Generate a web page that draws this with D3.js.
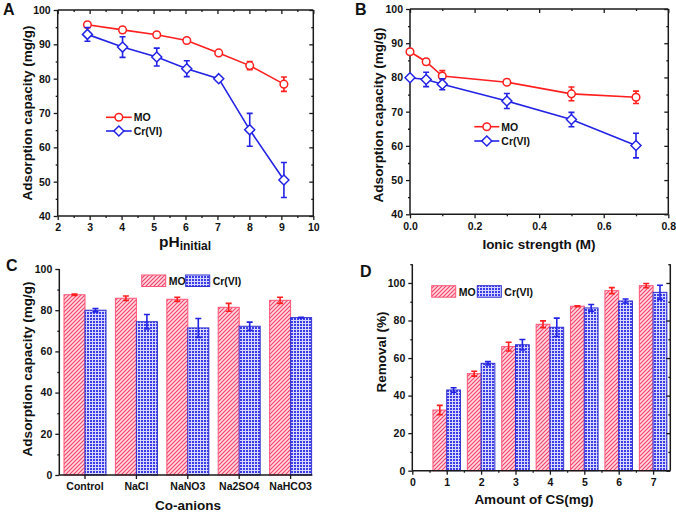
<!DOCTYPE html>
<html><head><meta charset="utf-8">
<script src="https://cdn.jsdelivr.net/npm/d3@7"></script>
<style>
body{margin:0;background:#fff}
svg{display:block}
text{font-family:Arial,"Liberation Sans",sans-serif;font-weight:bold;fill:#111}
</style>
</head><body>
<svg id="c" width="676" height="512"></svg>
<script>
// ---------- DATA ----------
const seriesNames = ["MO", "Cr(VI)"];

// Panel A: effect of initial pH
const phValues = [2.93, 4.03, 5.10, 6.04, 7.04, 8.01, 9.08];
const phMO     = [95.7, 94.2, 92.8, 91.1, 87.5, 83.8, 78.4];
const phMOErr  = [0.5, 0.8, 0.5, 0.6, 0.6, 1.2, 2.1];
const phCr     = [92.9, 89.2, 86.3, 82.9, 80.0, 65.1, 50.5];
const phCrErr  = [2.0, 3.0, 2.6, 2.3, 0.5, 4.8, 5.1];
const phTicks  = [2, 3, 4, 5, 6, 7, 8, 9, 10];
const capTicksA = [40, 50, 60, 70, 80, 90, 100];

// Panel B: effect of ionic strength
const ionicValues = [0, 0.05, 0.1, 0.3, 0.5, 0.7];
const ionicMO     = [87.5, 84.6, 80.4, 78.6, 75.2, 74.2];
const ionicMOErr  = [0.5, 0.8, 1.6, 0.5, 2.0, 1.8];
const ionicCr     = [79.9, 79.4, 78.0, 73.1, 67.7, 60.1];
const ionicCrErr  = [0.4, 2.1, 1.6, 2.2, 2.1, 3.6];
const ionicTicks  = [0, 0.2, 0.4, 0.6, 0.8];
const capTicksB   = [40, 50, 60, 70, 80, 90, 100];

// Panel C: co-anions
const anions     = ["Control", "NaCl", "NaNO3", "Na2SO4", "NaHCO3"];
const anionMO    = [87.5, 85.8, 85.3, 81.4, 84.8];
const anionMOErr = [0.3, 1.1, 1.0, 1.9, 1.5];
const anionCr    = [80.0, 74.4, 71.4, 72.2, 76.4];
const anionCrErr = [0.8, 3.5, 4.6, 2.0, 0.2];
const capTicksC  = [0, 20, 40, 60, 80, 100];

// Panel D: amount of CS
const csAmount = [1, 2, 3, 4, 5, 6, 7];
const csMO     = [32.3, 51.7, 66.1, 78.0, 87.6, 95.9, 98.6];
const csMOErr  = [2.5, 1.3, 2.3, 1.8, 0.3, 1.6, 1.1];
const csCr     = [43.0, 57.2, 67.1, 76.4, 86.7, 90.4, 95.0];
const csCrErr  = [1.2, 0.9, 2.8, 4.9, 1.8, 1.1, 3.8];
const csTicks  = [0, 1, 2, 3, 4, 5, 6, 7];
const removalTicks = [0, 20, 40, 60, 80, 100];

// ---------- STYLE ----------
const RED = "#ff1f1f", BLUE = "#2323e6", AX = "#1a1a1a";
const svg = d3.select("#c");
const defs = svg.append("defs");
const pMO = defs.append("pattern").attr("id","hMO").attr("patternUnits","userSpaceOnUse").attr("width",4).attr("height",4);
pMO.append("rect").attr("width",4).attr("height",4).attr("fill","#ffd8e0");
pMO.append("path").attr("d","M-1,1 L1,-1 M0,4 L4,0 M3,5 L5,3").attr("stroke","#f2406a").attr("stroke-width",1.1);
const pCr = defs.append("pattern").attr("id","hCr").attr("patternUnits","userSpaceOnUse").attr("width",3).attr("height",3);
pCr.append("rect").attr("width",3).attr("height",3).attr("fill","#3b3be8");
pCr.append("path").attr("d","M0,2.5 H3 M2.5,0 V3").attr("stroke","#d8d8ff").attr("stroke-width",1);

function styleAxis(g){
  g.selectAll("path.domain").remove();
  g.selectAll("line").attr("stroke",AX).attr("stroke-width",1.3);
  g.selectAll("text").attr("font-size",10.5).attr("fill","#111").style("font-weight","bold");
}
function axes(g, x, y, o){
  const [x0,x1] = o.xr || x.range(), [y0,y1] = y.range();
  const la = g.append("g").attr("transform",`translate(${x0},0)`)
    .call(d3.axisLeft(y).tickValues(o.yMaj).tickSize(4).tickPadding(3).tickSizeOuter(0).tickFormat(o.yFmt||d3.format("d")));
  styleAxis(la);
  if (o.yMin) styleAxis(g.append("g").attr("transform",`translate(${x0},0)`)
    .call(d3.axisLeft(y).tickValues(o.yMin).tickSize(2).tickFormat("")));
  if (o.xMaj){
    const ba = g.append("g").attr("transform",`translate(0,${y0})`)
      .call(d3.axisBottom(x).tickValues(o.xMaj).tickSize(4).tickPadding(4).tickFormat(o.xFmt||d3.format("d")));
    styleAxis(ba);
    if (o.xMin) styleAxis(g.append("g").attr("transform",`translate(0,${y0})`)
      .call(d3.axisBottom(x).tickValues(o.xMin).tickSize(2).tickFormat("")));
  }
  if (o.top){
    styleAxis(g.append("g").attr("transform",`translate(0,${y1})`).call(d3.axisTop(x).tickValues(o.xMaj).tickSize(-4).tickFormat("")));
    if (o.xMin) styleAxis(g.append("g").attr("transform",`translate(0,${y1})`).call(d3.axisTop(x).tickValues(o.xMin).tickSize(-2).tickFormat("")));
    g.append("line").attr("x1",x0).attr("x2",x1).attr("y1",y1).attr("y2",y1).attr("stroke",AX).attr("stroke-width",1.5);
  }
  if (o.right){
    styleAxis(g.append("g").attr("transform",`translate(${x1},0)`).call(d3.axisRight(y).tickValues(o.yMaj).tickSize(-4).tickFormat("")));
    if (o.yMin) styleAxis(g.append("g").attr("transform",`translate(${x1},0)`).call(d3.axisRight(y).tickValues(o.yMin).tickSize(-2).tickFormat("")));
    g.append("line").attr("x1",x1).attr("x2",x1).attr("y1",y0).attr("y2",y1).attr("stroke",AX).attr("stroke-width",1.5);
  }
  g.append("line").attr("x1",x0).attr("x2",x0).attr("y1",y0).attr("y2",y1).attr("stroke",AX).attr("stroke-width",1.5);
  g.append("line").attr("x1",x0).attr("x2",x1).attr("y1",y0).attr("y2",y0).attr("stroke",AX).attr("stroke-width",1.5);
}
function ylabel(t, cx, cy){
  svg.append("text").attr("transform",`translate(${cx},${cy}) rotate(-90)`).attr("text-anchor","middle")
    .attr("dominant-baseline","central").attr("font-size",13.5).text(t);
}
function panelLetter(t,x,y){ svg.append("text").attr("x",x).attr("y",y).attr("font-size",16).text(t); }

function circle(g,cx,cy,col){ g.append("circle").attr("cx",cx).attr("cy",cy).attr("r",3.8).attr("fill","#fff").attr("stroke",col).attr("stroke-width",1.5); }
function diamond(g,cx,cy,col){ g.append("path").attr("d",`M${cx},${cy-5}L${cx+5},${cy}L${cx},${cy+5}L${cx-5},${cy}Z`).attr("fill","#fff").attr("stroke",col).attr("stroke-width",1.5); }
function errBar(g,cx,yv,e,y,col,w){
  const a=y(yv+e), b=y(yv-e);
  g.append("path").attr("d",`M${cx},${a}V${b}M${cx-w},${a}H${cx+w}M${cx-w},${b}H${cx+w}`).attr("stroke",col).attr("stroke-width",1.6).attr("fill","none");
}
function lineSeries(g,xs,ys,es,x,y,col,marker){
  g.append("path").datum(xs.map((v,i)=>[v,ys[i]])).attr("d",d3.line().x(d=>x(d[0])).y(d=>y(d[1])))
    .attr("fill","none").attr("stroke",col).attr("stroke-width",1.6);
  xs.forEach((v,i)=>errBar(g,x(v),ys[i],es[i],y,col,3));
  xs.forEach((v,i)=>marker(g,x(v),y(ys[i]),col));
}
function lineLegend(g,x0,x1,yy,col,marker,label){
  g.append("line").attr("x1",x0).attr("x2",x1).attr("y1",yy).attr("y2",yy).attr("stroke",col).attr("stroke-width",1.6);
  marker(g,(x0+x1)/2,yy,col);
  g.append("text").attr("x",x1+2).attr("y",yy+4).attr("font-size",10.5).text(label);
}
function barLegend(g,x,yy,fill,stroke,label){
  g.append("rect").attr("x",x).attr("y",yy).attr("width",24).attr("height",11.5).attr("fill",fill).attr("stroke",stroke).attr("stroke-width",1);
  g.append("text").attr("x",x+27).attr("y",yy+10).attr("font-size",10.5).text(label);
}

// ---------- PANEL A ----------
{
  const g = svg.append("g");
  const x = d3.scaleLinear().domain([2,10]).range([57.7,313.3]);
  const y = d3.scaleLinear().domain([40,100]).range([216,10]);
  axes(g,x,y,{yMaj:capTicksA, yMin:d3.range(45,100,10), xMaj:phTicks, xMin:d3.range(2.5,10,1), top:true, right:true});
  lineSeries(g,phValues,phMO,phMOErr,x,y,RED,circle);
  lineSeries(g,phValues,phCr,phCrErr,x,y,BLUE,diamond);
  lineLegend(g,106,131.7,117.3,RED,circle,seriesNames[0]);
  lineLegend(g,106,131.7,131,BLUE,diamond,seriesNames[1]);
  ylabel("Adsorption capacity (mg/g)",27,113);
  const t = svg.append("text").attr("x",159).attr("y",247).attr("text-anchor","start");
  t.append("tspan").attr("font-size",15.5).text("pH");
  t.append("tspan").attr("font-size",12).attr("dy",3).text("initial");
  panelLetter("A",3,15);
}
// ---------- PANEL B ----------
{
  const g = svg.append("g");
  const x = d3.scaleLinear().domain([0,0.8]).range([410,668.3]);
  const y = d3.scaleLinear().domain([40,100]).range([214.3,9]);
  axes(g,x,y,{yMaj:capTicksB, yMin:d3.range(45,100,10), xMaj:ionicTicks, xMin:[0.1,0.3,0.5,0.7], xFmt:d3.format(".1f"), top:true, right:true});
  lineSeries(g,ionicValues,ionicMO,ionicMOErr,x,y,RED,circle);
  lineSeries(g,ionicValues,ionicCr,ionicCrErr,x,y,BLUE,diamond);
  lineLegend(g,474.3,499.3,126.7,RED,circle,seriesNames[0]);
  lineLegend(g,474.3,499.3,141,BLUE,diamond,seriesNames[1]);
  ylabel("Adsorption capacity (mg/g)",378,115);
  svg.append("text").attr("x",539).attr("y",249).attr("text-anchor","middle").attr("font-size",13.5).text("Ionic strength (M)");
  panelLetter("B",355,15);
}
// ---------- PANEL C ----------
{
  const g = svg.append("g");
  const x = d3.scaleBand().domain(anions).range([59.3,316.3]);
  const y = d3.scaleLinear().domain([0,100]).range([475,269]);
  const bw = 21;
  anions.forEach((a,i)=>{
    const cx = x(a)+x.bandwidth()/2;
    g.append("rect").attr("x",cx-bw).attr("y",y(anionMO[i])).attr("width",bw).attr("height",y(0)-y(anionMO[i]))
      .attr("fill","url(#hMO)").attr("stroke","#ff5577").attr("stroke-width",1);
    g.append("rect").attr("x",cx).attr("y",y(anionCr[i])).attr("width",bw).attr("height",y(0)-y(anionCr[i]))
      .attr("fill","url(#hCr)").attr("stroke","#3030d0").attr("stroke-width",1);
    errBar(g,cx-bw/2,anionMO[i],anionMOErr[i],y,RED,3);
    errBar(g,cx+bw/2,anionCr[i],anionCrErr[i],y,BLUE,3);
  });
  axes(g,x,y,{yMaj:capTicksC, yMin:d3.range(10,100,20), xr:[59.3,312.3]});
  const ba = g.append("g").attr("transform",`translate(0,${y(0)})`)
    .call(d3.axisBottom(x).tickSize(4).tickPadding(4).tickSizeOuter(0));
  styleAxis(ba);
  barLegend(g,141.7,275,"url(#hMO)","#ff5577",seriesNames[0]);
  barLegend(g,185.7,275,"url(#hCr)","#3030d0",seriesNames[1]);
  ylabel("Adsorption capacity (mg/g)",27,369);
  svg.append("text").attr("x",188).attr("y",510).attr("text-anchor","middle").attr("font-size",13.5).text("Co-anions");
  panelLetter("C",6,271);
}
// ---------- PANEL D ----------
{
  const g = svg.append("g");
  const x = d3.scaleLinear().domain([0,7.5]).range([412.3,670.3]);
  const y = d3.scaleLinear().domain([0,110]).range([470.7,264.2]);
  const bw = 0.4;
  csAmount.forEach((a,i)=>{
    g.append("rect").attr("x",x(a-bw)).attr("y",y(csMO[i])).attr("width",x(a)-x(a-bw)).attr("height",y(0)-y(csMO[i]))
      .attr("fill","url(#hMO)").attr("stroke","#ff5577").attr("stroke-width",1);
    g.append("rect").attr("x",x(a)).attr("y",y(csCr[i])).attr("width",x(a+bw)-x(a)).attr("height",y(0)-y(csCr[i]))
      .attr("fill","url(#hCr)").attr("stroke","#3030d0").attr("stroke-width",1);
    errBar(g,x(a-bw/2),csMO[i],csMOErr[i],y,RED,3);
    errBar(g,x(a+bw/2),csCr[i],csCrErr[i],y,BLUE,3);
  });
  axes(g,x,y,{yMaj:removalTicks, yMin:d3.range(10,111,20), xMaj:csTicks, xMin:d3.range(0.5,7.5,1), right:true});
  barLegend(g,431.7,285.7,"url(#hMO)","#ff5577",seriesNames[0]);
  barLegend(g,477.3,285.7,"url(#hCr)","#3030d0",seriesNames[1]);
  ylabel("Removal (%)",381,352);
  svg.append("text").attr("x",534).attr("y",504).attr("text-anchor","middle").attr("font-size",13.5).text("Amount of CS(mg)");
  panelLetter("D",360,277);
}
</script>
</body></html>
